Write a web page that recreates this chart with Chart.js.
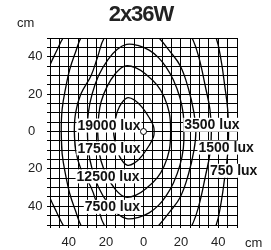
<!DOCTYPE html>
<html>
<head>
<meta charset="utf-8">
<script src="https://cdn.jsdelivr.net/npm/chart.js@4/dist/chart.umd.min.js"></script>
<style>
  html, body { margin: 0; padding: 0; background: #fff; }
</style>
</head>
<body>
<canvas id="chart" width="271" height="250"></canvas>
<script>
const title = '2x36W';
const unit = 'cm';

// Upper halves of the isolux curves (cm), from the left end over the top to the right end.
// The diagram is mirrored about y = 0, so the lower halves are built from these.
const curve17500 = [
  {x: -16, y: 0}, {x: -15, y: 6.8}, {x: -13, y: 13}, {x: -8.8, y: 18}, {x: -4.5, y: 16.6},
  {x: -0.5, y: 12.6}, {x: 3, y: 7.5}, {x: 5.3, y: 3}, {x: 5.7, y: 0}
];
const curve12500 = [
  {x: -24.5, y: 0}, {x: -24, y: 8}, {x: -22.7, y: 15.8}, {x: -19.5, y: 24}, {x: -15, y: 31},
  {x: -10, y: 35}, {x: -4, y: 34}, {x: 2, y: 30}, {x: 7.4, y: 24.7}, {x: 11, y: 18.6},
  {x: 13.8, y: 10}, {x: 14.5, y: 0}
];
const curve7500 = [
  {x: -30, y: 0}, {x: -29.5, y: 10}, {x: -27.5, y: 20}, {x: -24, y: 30}, {x: -19, y: 38.5},
  {x: -14, y: 44}, {x: -9, y: 46.6}, {x: -3, y: 46}, {x: 3, y: 43.5}, {x: 8, y: 39.5},
  {x: 12, y: 34.5}, {x: 16, y: 27.5}, {x: 19.5, y: 18}, {x: 21.3, y: 9}, {x: 21.6, y: 0}
];
const curve3500 = [
  {x: -37, y: 0}, {x: -36.3, y: 10}, {x: -33.5, y: 20}, {x: -28, y: 30}, {x: -24.5, y: 40},
  {x: -21, y: 50}, {x: -15, y: 56}, {x: -7, y: 58}, {x: 1, y: 56.5}, {x: 7.4, y: 51},
  {x: 14, y: 43}, {x: 19.7, y: 35}, {x: 24, y: 23}, {x: 27, y: 10}, {x: 28, y: 0}
];
const curve1500 = [
  {x: -44, y: 0}, {x: -43.5, y: 12}, {x: -41.5, y: 24}, {x: -39.5, y: 33}, {x: -36.5, y: 42},
  {x: -33, y: 51}, {x: -26, y: 60}, {x: -10, y: 66}, {x: 8, y: 65}, {x: 20, y: 58},
  {x: 25.5, y: 51}, {x: 29.5, y: 40}, {x: 33.3, y: 23}, {x: 35.5, y: 12}, {x: 36.3, y: 0}
];
const curve750 = [
  {x: -56, y: 0}, {x: -55, y: 15}, {x: -52.5, y: 28}, {x: -50, y: 35.5}, {x: -46.5, y: 43},
  {x: -43, y: 50}, {x: -37, y: 58}, {x: -22, y: 67}, {x: 0, y: 70}, {x: 25, y: 65},
  {x: 34, y: 57}, {x: 38.5, y: 51}, {x: 41.5, y: 38}, {x: 43.5, y: 24}, {x: 45, y: 12},
  {x: 45.5, y: 0}
];
const luminaire = [{x: 0, y: 0}];

// isolux labels: text, left end (cm), middle height (cm)
const labelText = ['19000 lux', '17500 lux', '12500 lux', '7500 lux', '3500 lux', '1500 lux', '750 lux'];
const labelX = [-35.3, -35.3, -35.8, -31.4, 21.8, 29.4, 35.5];
const labelY = [3.2, -9, -24, -40.3, 3.6, -8.6, -21];

const fontFamily = "'Liberation Sans', Arial, Helvetica, sans-serif";

function closedCurve(upper) {
  const lower = upper.slice().reverse().slice(1).map(p => ({x: p.x, y: -p.y}));
  const start = {x: upper[1].x, y: -upper[1].y};
  return [start].concat(upper, lower);
}

const curves = [curve17500, curve12500, curve7500, curve3500, curve1500, curve750];

const datasets = [{
  data: luminaire,
  pointRadius: 3,
  pointBorderWidth: 1,
  pointBorderColor: '#000',
  pointBackgroundColor: '#fff',
  showLine: false
}].concat(curves.map(c => ({
  data: closedCurve(c),
  showLine: true,
  borderColor: '#000',
  borderWidth: 1.3,
  tension: 0.4,
  pointRadius: 0,
  fill: false
})));

const isoLabels = {
  id: 'isoLabels',
  afterDatasetDraw(chart, args) {
    if (args.index !== 1) return;
    const {ctx, scales: {x, y}} = chart;
    ctx.save();
    ctx.font = 'bold 14px ' + fontFamily;
    ctx.textBaseline = 'middle';
    ctx.textAlign = 'left';
    labelText.forEach((t, i) => {
      const px = x.getPixelForValue(labelX[i]);
      const py = y.getPixelForValue(labelY[i]);
      const w = ctx.measureText(t).width;
      ctx.fillStyle = '#fff';
      ctx.fillRect(px - 1, py - 7, w + 2, 14);
      ctx.fillStyle = '#111';
      ctx.fillText(t, px, py + 0.5);
    });
    ctx.restore();
  },
  afterDraw(chart) {
    const {ctx, chartArea} = chart;
    ctx.save();
    ctx.fillStyle = '#222';
    ctx.textBaseline = 'middle';
    ctx.font = 'bold 22px ' + fontFamily;
    ctx.textAlign = 'center';
    if ('letterSpacing' in ctx) ctx.letterSpacing = '-1px';
    ctx.fillText(title, 141, 15);
    if ('letterSpacing' in ctx) ctx.letterSpacing = '0px';
    ctx.font = '13px ' + fontFamily;
    ctx.textAlign = 'left';
    ctx.fillText(unit, chartArea.left - 33, chartArea.top - 15);
    ctx.fillText(unit, chartArea.right + 8, chartArea.bottom + 18);
    ctx.restore();
  }
};

const tickLabel = v => (v % 20 === 0 ? String(Math.abs(v)) : '');

new Chart(document.getElementById('chart'), {
  type: 'scatter',
  data: {datasets},
  plugins: [isoLabels],
  options: {
    responsive: false,
    animation: false,
    devicePixelRatio: 1,
    layout: {padding: {left: 28, right: 34, top: 38, bottom: 0}},
    plugins: {legend: {display: false}, tooltip: {enabled: false}, title: {display: false}},
    scales: {
      x: {
        type: 'linear', min: -50, max: 50,
        afterFit: s => { s.height = 25; },
        border: {color: '#000', width: 1},
        grid: {color: '#000', lineWidth: 1, tickLength: 3, drawTicks: true},
        ticks: {stepSize: 5, autoSkip: false, maxRotation: 0, padding: 7,
          color: '#222', font: {family: fontFamily, size: 13}, callback: tickLabel}
      },
      y: {
        type: 'linear', min: -50, max: 50,
        afterFit: s => { s.width = 22; },
        border: {color: '#000', width: 1},
        grid: {color: '#000', lineWidth: 1, tickLength: 3, drawTicks: true},
        ticks: {stepSize: 5, autoSkip: false, crossAlign: 'far', padding: 4,
          color: '#222', font: {family: fontFamily, size: 13}, callback: tickLabel}
      }
    }
  }
});
</script>
</body>
</html>
